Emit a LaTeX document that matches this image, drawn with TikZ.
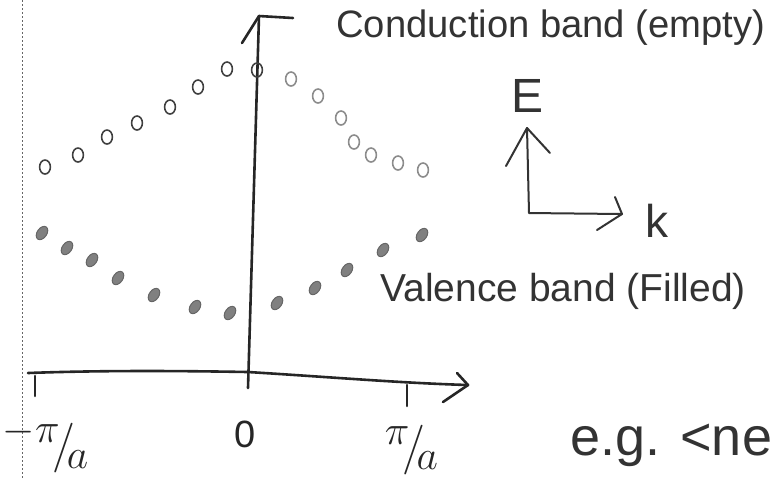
\documentclass[tikz,border=0pt]{standalone}
\usepackage{fontspec}
\setmainfont{Liberation Sans}
\usepackage{tikz}
\usetikzlibrary{shapes.geometric,positioning}

\begin{document}
\begin{tikzpicture}[x=0.5pt,y=-0.5pt,
  axis/.style={draw=black!85,line width=1.3pt,line cap=round,line join=round},
  small axis/.style={draw=black!80,line width=1pt,line cap=round,line join=round},
  empty/.style={ellipse,draw=black!75,line width=0.8pt,minimum width=5.4pt,minimum height=7pt,inner sep=0pt},
  faint/.style={empty,draw=black!45},
  filled/.style={ellipse,draw=black!60,fill=black!50,line width=0.5pt,minimum width=4.8pt,minimum height=7.4pt,inner sep=0pt,rotate=-35},
  hand/.style={text=black!80,inner sep=0pt,anchor=base west}]
  \useasboundingbox (0,0) rectangle (770,479);
  % edge of the sheet
  \draw[black!60,line width=0.4pt,dash pattern=on 1pt off 1pt] (22,0) -- (22,479);
  % E axis
  \coordinate (o) at (248,372);
  \coordinate (etop) at (259,16);
  \coordinate (ebot) at (248,388);
  \draw[axis] (ebot) -- (etop);
  \draw[axis] (242,43) -- (etop) -- (293,18);
  % k axis
  \coordinate (kl) at (28,373);
  \coordinate (kr) at (468,385);
  \draw[axis] (kl) .. controls (110,370) and (190,371) .. (o) .. controls (330,377) and (400,383) .. (kr);
  \draw[axis] (457,373) -- (kr) -- (443,402);
  \draw[axis] (35,376) -- (35,396);
  \draw[axis] (407,385) -- (407,406);
  \node[text=black!85,font=\fontsize{30}{30}\selectfont] (mpia) at (46,446) {$^{-\pi}\!/\!_{a}$};
  \node[text=black!85,font=\fontsize{19}{19}\selectfont] (zero) at (245,434) {0};
  \node[text=black!85,font=\fontsize{30}{30}\selectfont] (ppia) at (412,450) {$^{\pi}\!/\!_{a}$};
  % conduction band, empty states
  \foreach \x/\y [count=\i] in {45/167,78/155,107/137,137/123,170/107,198/87,227/69,257/70}
    \node[empty] (c\i) at (\x,\y) {};
  \foreach \x/\y [count=\i from 9] in {291/79,318/96,341/118,354/142,371/155,398/163,423/170}
    \node[faint] (c\i) at (\x,\y) {};
  % valence band, filled states
  \foreach \x/\y [count=\i] in {42/233,67/248,92/260,118/278,154/295,195/307,230/313,
                                277/303,315/288,347/270,383/250,422/235}
    \node[filled] (v\i) at (\x,\y) {};
  \node[hand,font=\fontsize{19.1}{19.1}\selectfont] (cond) at (336,37) {Conduction band (empty)};
  \node[hand,font=\fontsize{19.5}{19.5}\selectfont] (val) at (380,301) {Valence band (Filled)};
  % small E--k key
  \coordinate (so) at (529,213);
  \coordinate (sE) at (527,128);
  \coordinate (sk) at (622,214);
  \draw[small axis] (sE) -- (so) -- (sk);
  \draw[small axis] (506,166) -- (sE) -- (550,153);
  \draw[small axis] (615,197) -- (sk) -- (597,230);
  \node[text=black!80,font=\fontsize{24}{24}\selectfont] (E) at (527,96) {E};
  \node[text=black!80,font=\fontsize{23}{23}\selectfont] (k) at (657,221) {k};
  \node[hand,font=\fontsize{27}{27}\selectfont] (eg) at (570,455) {e.g. <ne};
\end{tikzpicture}
\end{document}
